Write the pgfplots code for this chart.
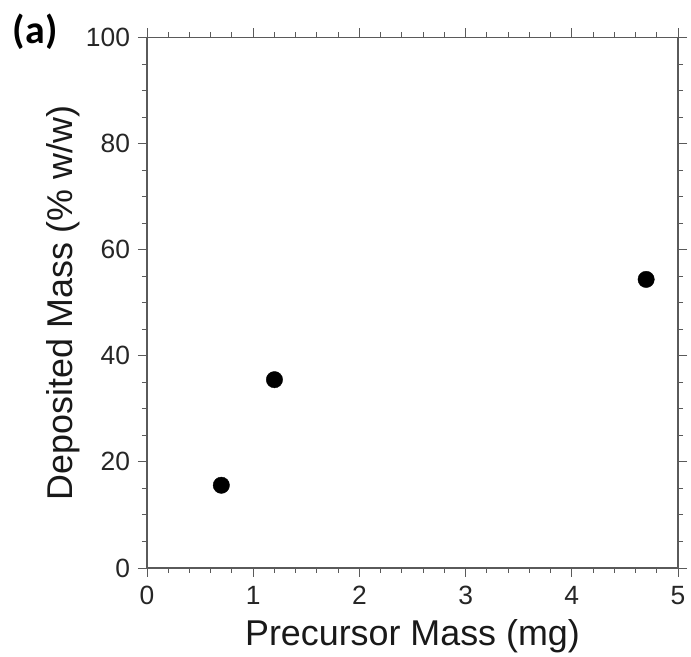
\documentclass[border=0pt]{standalone}
\usepackage{pgfplots}
\pgfplotsset{compat=1.18}
\usepackage{fontspec}
\setmainfont{Liberation Sans}
\newfontfamily\calib{Carlito}
\definecolor{axgray}{RGB}{90,90,90}
\begin{document}
\begin{tikzpicture}
\useasboundingbox (0,0) rectangle (691bp,657bp);
\begin{axis}[
  at={(147bp,89bp)}, anchor=south west,
  scale only axis,
  width=531bp, height=530.5bp,
  xmin=0, xmax=5, ymin=0, ymax=100,
  xtick={0,1,2,3,4,5}, ytick={0,20,40,60,80,100},
  minor x tick num=4, minor y tick num=3,
  tick align=outside,
  major tick length=9bp, minor tick length=5bp,
  axis line style={axgray, line width=1.4bp},
  every tick/.style={axgray, line width=1bp},
  /pgf/number format/assume math mode=true,
  tick label style={font=\fontsize{26.5}{30}\selectfont, text=black!85},
  xticklabel style={yshift=-5.5bp},
  yticklabel style={xshift=-4.5bp},
  label style={font=\fontsize{36}{42}\selectfont, text=black!90},
  xlabel={Precursor Mass (mg)},
  ylabel={Deposited Mass (\% w/w)},
  xlabel style={at={(axis description cs:0.5,0)}, anchor=base, yshift=-77bp},
  ylabel style={at={(axis description cs:-0.1412,0.5)}, anchor=base},
  clip=false,
]
\addplot[only marks, mark=*, mark size=8.2bp, black] coordinates {
  (0.7,15.6) (1.2,35.5) (4.7,54.4)
};
\end{axis}
\node[anchor=base west, inner sep=0pt, font=\calib\bfseries\fontsize{40}{44}\selectfont] at (12.7bp,613.7bp) {(a)};
\end{tikzpicture}
\end{document}
